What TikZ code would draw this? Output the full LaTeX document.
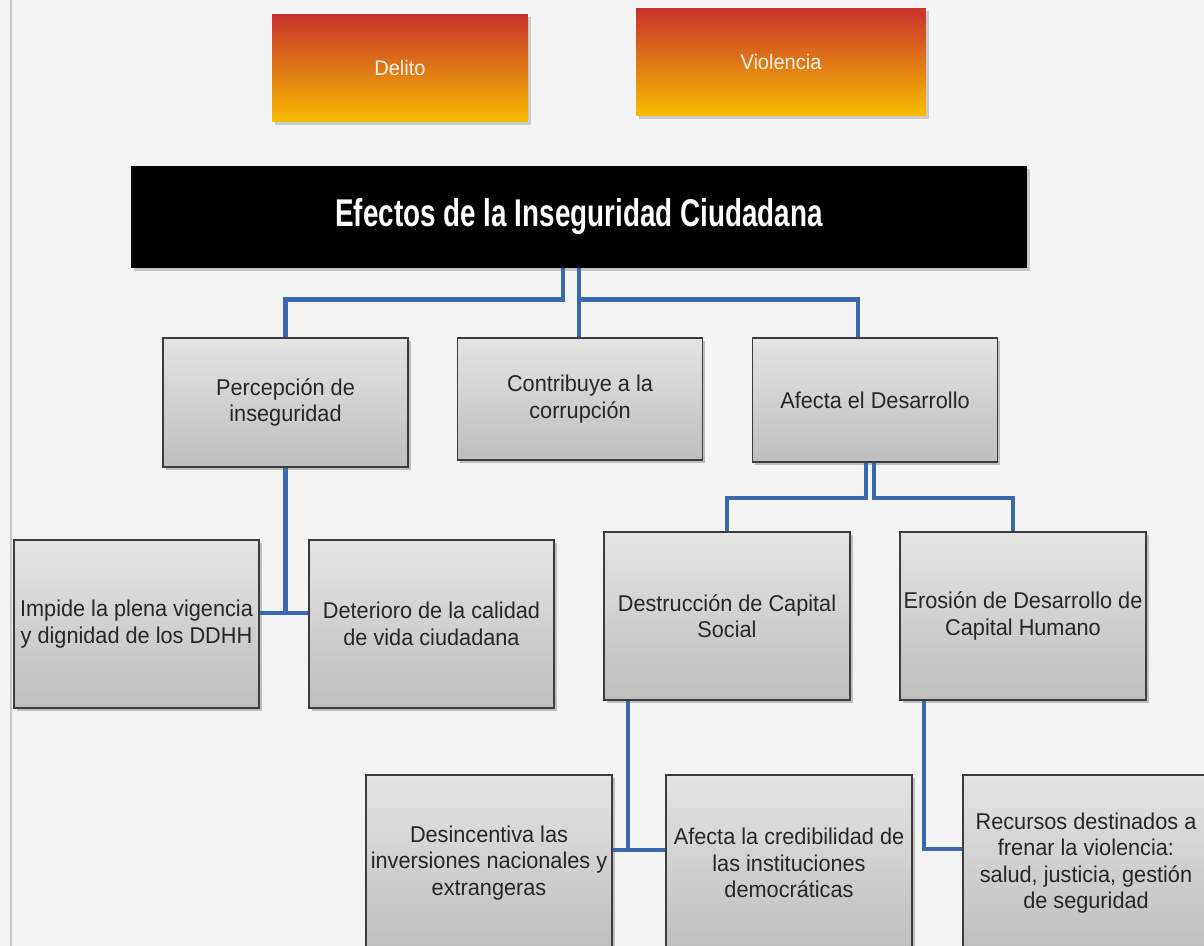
\documentclass[tikz,border=0pt]{standalone}
\usepackage{fontspec}
\setmainfont{Liberation Sans}[FakeStretch=0.95]
\newfontfamily\headfont{Liberation Sans}[FakeStretch=0.72]
\usetikzlibrary{calc,shadows}

\definecolor{linkblue}{RGB}{58,104,172}
\definecolor{boxtop}{RGB}{228,228,228}
\definecolor{boxbot}{RGB}{190,190,190}
\definecolor{warmtop}{RGB}{200,50,44}
\definecolor{warmmid}{RGB}{228,112,24}
\definecolor{warmbot}{RGB}{248,188,0}
\definecolor{edgegrey}{RGB}{60,60,60}
\definecolor{paper}{RGB}{244,244,244}

\begin{document}
\begin{tikzpicture}[x=0.02cm,y=-0.02cm,
  font=\fontsize{13}{15}\selectfont,
  effect/.style={draw=edgegrey,line width=1.1pt,top color=boxtop,bottom color=boxbot,
    minimum width=4.9cm,minimum height=3.36cm,align=center,inner sep=1pt,text=black!85,
    drop shadow={shadow xshift=1.5pt,shadow yshift=-1.5pt,opacity=0.45}},
  cause/.style={top color=warmtop,middle color=warmmid,bottom color=warmbot,
    minimum height=2.16cm,text=white!92!orange,
    font=\fontsize{12}{14}\selectfont,
    drop shadow={shadow xshift=1.5pt,shadow yshift=-1.5pt,opacity=0.35}},
  link/.style={draw=linkblue,line width=2.6pt}]

\useasboundingbox (0,0) rectangle (1204,946);
\fill[paper] (0,0) rectangle (1204,946);
\draw[gray!45,line width=1.5pt] (11,0) -- (11,946);

% causas
\node[cause,minimum width=5.12cm] (delito) at (400,68) {Delito};
\node[cause,minimum width=5.8cm] (violencia) at (781,62) {Violencia};

\node[fill=black,text=white,minimum width=17.92cm,minimum height=2.04cm,
  font=\headfont\bfseries\fontsize{22}{26}\selectfont,
  drop shadow={shadow xshift=1.5pt,shadow yshift=-1.5pt,opacity=0.4}]
  (title) at (579,217) {Efectos de la Inseguridad Ciudadana};

% primer nivel
\node[effect,minimum height=2.58cm] (perc) at (285.5,402.5) {Percepción de\\inseguridad};
\node[effect,minimum height=2.44cm] (contrib) at (580,399) {Contribuye a la\\corrupción};
\node[effect,minimum height=2.48cm] (afecta) at (875,400) {Afecta el Desarrollo};

% segundo nivel
\node[effect] (impide) at (136.5,624) {Impide la plena vigencia\\y dignidad de los DDHH};
\node[effect] (deterioro) at (431.5,624) {Deterioro de la calidad\\de vida ciudadana};
\node[effect,minimum width=4.92cm] (destruc) at (727,616) {Destrucción de Capital\\Social};
\node[effect,minimum width=4.92cm] (erosion) at (1023,616) {Erosión de Desarrollo de\\Capital Humano};

% tercer nivel
\node[effect,minimum width=4.92cm,minimum height=3.52cm] (desinc) at (489,863) {Desincentiva las\\inversiones nacionales y\\extrangeras};
\node[effect,minimum width=4.92cm,minimum height=3.52cm] (credib) at (789,863) {Afecta la credibilidad de\\las instituciones\\democráticas};
\node[effect,minimum width=4.92cm,minimum height=3.52cm] (recursos) at (1086,863) {Recursos destinados a\\frenar la violencia:\\salud, justicia, gestión\\de seguridad};

% conectores
\draw[link] ($(title.south)+(-16,0)$) -- ++(0,31) -| (perc.north);
\draw[link] (title.south) -- (title.south |- contrib.north);
\draw[link] (title.south) ++(0,31) -| ($(afecta.north)+(-17,0)$);

\draw[link] (perc.south) -- ++(0,145) coordinate (p1);
\draw[link] (impide.east |- p1) -- (deterioro.west |- p1);

\draw[link] ($(afecta.south)+(-9,0)$) -- ++(0,35) -| (destruc.north);
\draw[link] ($(afecta.south)+(-1,0)$) -- ++(0,35) -| ($(erosion.north)+(-10,0)$);

\draw[link] ($(destruc.south west)+(25,0)$) -- ++(0,149) coordinate (d1);
\draw[link] (desinc.east |- d1) -- (credib.west |- d1);

\draw[link] ($(erosion.south west)+(25,0)$) |- ($(recursos.west)+(0,-14)$);

\end{tikzpicture}
\end{document}
